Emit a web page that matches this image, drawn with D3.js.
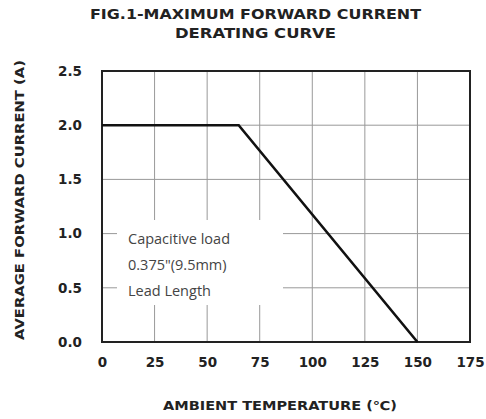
<!DOCTYPE html>
<html><head><meta charset="utf-8">
<script src="https://cdn.jsdelivr.net/npm/d3@7"></script>
<style>body{margin:0;background:#fff}svg{display:block}</style>
</head><body>
<svg id="c" width="486" height="419"></svg>
<script>
const titleLines = ["FIG.1-MAXIMUM FORWARD CURRENT", "DERATING CURVE"];
const xTicks = [0, 25, 50, 75, 100, 125, 150, 175];
const yTicks = [0.0, 0.5, 1.0, 1.5, 2.0, 2.5];
const curveTemp = [0, 65, 150];
const curveCurrent = [2.0, 2.0, 0.0];
const noteLines = ["Capacitive load", "0.375\"(9.5mm)", "Lead Length"];
const xTitle = "AMBIENT TEMPERATURE (\u2103)";
const yTitle = "AVERAGE FORWARD CURRENT (A)";

const svg = d3.select("#c");
const L = 102, R = 470, T = 71, B = 342;
const x = d3.scaleLinear().domain([0, 175]).range([L, R]);
const y = d3.scaleLinear().domain([0, 2.5]).range([B, T]);
const bold = "'DejaVu Sans', 'Liberation Sans', Arial, sans-serif";

const titleWidths = [331, 161];
svg.append("g").selectAll("text").data(titleLines).join("text")
  .attr("x", 255.5).attr("y", (d, i) => 19 + i * 19)
  .attr("text-anchor", "middle").attr("font-family", bold).attr("font-weight", "bold")
  .attr("font-size", 13.5).attr("fill", "#222")
  .attr("textLength", (d, i) => titleWidths[i]).attr("lengthAdjust", "spacingAndGlyphs")
  .text(d => d);

// grid
const g = svg.append("g");
g.selectAll(".vg").data(xTicks.slice(1, -1)).join("line")
  .attr("x1", d => x(d)).attr("x2", d => x(d)).attr("y1", T).attr("y2", B)
  .attr("stroke", "#999").attr("stroke-width", 1);
g.selectAll(".hg").data(yTicks.slice(1, -1)).join("line")
  .attr("x1", L).attr("x2", R).attr("y1", d => y(d)).attr("y2", d => y(d))
  .attr("stroke", "#999").attr("stroke-width", 1);

// white note box
svg.append("rect").attr("x", 117).attr("y", 220).attr("width", 166).attr("height", 85).attr("fill", "#fff");
svg.append("g").selectAll("text").data(noteLines).join("text")
  .attr("x", 128).attr("y", (d, i) => 244 + i * 26)
  .attr("font-family", "'Open Sans', sans-serif").attr("font-size", 14.5)
  .attr("fill", "#444").text(d => d);

// axes with d3
const xAxis = d3.axisBottom(x).tickValues(xTicks).tickSize(0).tickPadding(15).tickFormat(d3.format("d"));
const yAxis = d3.axisLeft(y).tickValues(yTicks).tickSize(0).tickPadding(20).tickFormat(d3.format(".1f"));
const ax = svg.append("g").attr("transform", `translate(0,${B})`).call(xAxis);
const ay = svg.append("g").attr("transform", `translate(${L},0)`).call(yAxis);
[ax, ay].forEach(a => {
  a.select(".domain").remove();
  a.selectAll("text").attr("font-family", bold).attr("font-weight", "bold")
    .attr("font-size", 13.5).attr("fill", "#222");
});

// border
svg.append("rect").attr("x", L).attr("y", T).attr("width", R - L).attr("height", B - T)
  .attr("fill", "none").attr("stroke", "#222").attr("stroke-width", 2);

// curve
const line = d3.line().x(d => x(d[0])).y(d => y(d[1]));
svg.append("path").datum(curveTemp.map((t, i) => [t, curveCurrent[i]]))
  .attr("d", line).attr("fill", "none").attr("stroke", "#111").attr("stroke-width", 2.6);

svg.append("text").attr("x", 280).attr("y", 410).attr("text-anchor", "middle")
  .attr("font-family", bold).attr("font-weight", "bold").attr("font-size", 12)
  .attr("textLength", 234).attr("lengthAdjust", "spacingAndGlyphs")
  .attr("fill", "#222").text(xTitle);
svg.append("text").attr("transform", "translate(24,200) rotate(-90)").attr("text-anchor", "middle")
  .attr("font-family", bold).attr("font-weight", "bold").attr("font-size", 12)
  .attr("textLength", 280).attr("lengthAdjust", "spacingAndGlyphs")
  .attr("fill", "#222").text(yTitle);
</script>
</body></html>
